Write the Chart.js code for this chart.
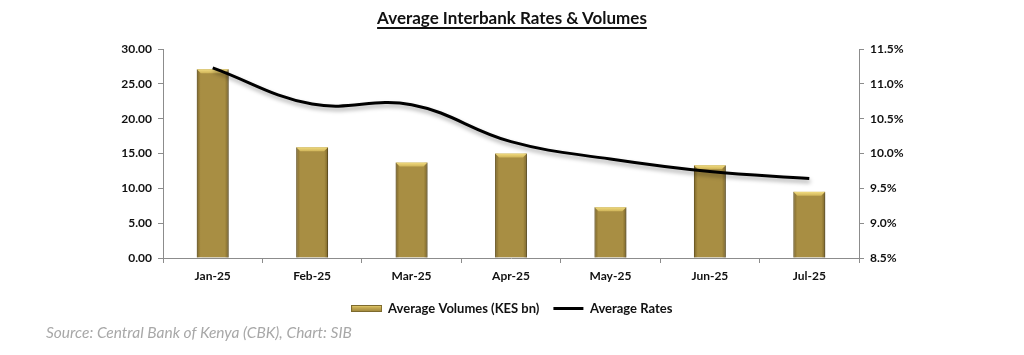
<!DOCTYPE html>
<html><head><meta charset="utf-8">
<script src="https://cdn.jsdelivr.net/npm/chart.js@4/dist/chart.umd.min.js"></script>
<style>
html,body{margin:0;padding:0;background:#fff;}
#wrap{position:relative;width:1024px;height:355px;overflow:hidden;background:#fff;}
#title{position:absolute;left:0;top:7px;width:1024px;text-align:center;font:bold 17px Lato, sans-serif;color:#111;z-index:2;}
#title span{text-decoration:underline;text-underline-offset:3px;text-decoration-thickness:1.5px;}
#src{position:absolute;left:46px;top:323px;font:italic 15.5px Lato, sans-serif;color:#a8a8a8;z-index:2;}
canvas{position:absolute;left:0;top:0;}
</style></head>
<body>
<div id="wrap">
  <div id="title"><span>Average Interbank Rates &amp; Volumes</span></div>
  <canvas id="c" width="1024" height="355"></canvas>
  <div id="src">Source: Central Bank of Kenya (CBK), Chart: SIB</div>
</div>
<script>
const categories = ['Jan-25','Feb-25','Mar-25','Apr-25','May-25','Jun-25','Jul-25'];
const volumes = [27.1, 15.9, 13.7, 15.0, 7.3, 13.3, 9.5];
const rates = [11.23, 10.71, 10.70, 10.17, 9.92, 9.74, 9.64];
const volumeAxis = [0, 30, 5];     // min, max, step
const rateAxis = [8.5, 11.5, 0.5]; // min, max, step
const seriesNames = ['Average Volumes (KES bn)', 'Average Rates'];

// legend swatch for the bar series (wide bevelled gold bar)
const swatch = document.createElement('canvas');
swatch.width = 31; swatch.height = 7;
(function(){
  const c = swatch.getContext('2d');
  const g = c.createLinearGradient(0, 0, 0, 7);
  g.addColorStop(0, '#f0da7c');
  g.addColorStop(0.35, '#c9ae55');
  g.addColorStop(1, '#9a8138');
  c.fillStyle = g; c.fillRect(0, 0, 31, 7);
  c.strokeStyle = '#7d6a2e'; c.lineWidth = 1; c.strokeRect(0.5, 0.5, 30, 6);
})();

const bevelPlugin = {
  id: 'bevel',
  beforeDatasetDraw(chart, args) {
    const ctx = chart.ctx;
    ctx.save();
    if (args.index === 1) {
      ctx.shadowColor = 'rgba(0,0,0,0.35)';
      ctx.shadowBlur = 4;
      ctx.shadowOffsetX = 1;
      ctx.shadowOffsetY = 3;
    } else {
      ctx.shadowColor = 'rgba(0,0,0,0.25)';
      ctx.shadowBlur = 3;
      ctx.shadowOffsetX = 2;
      ctx.shadowOffsetY = 1;
    }
  },
  afterDatasetDraw(chart, args) {
    const ctx = chart.ctx;
    ctx.restore();
    if (args.index !== 0) return;
    args.meta.data.forEach(bar => {
      const p = bar.getProps(['x','y','base','width'], true);
      const l = p.x - p.width/2, r = p.x + p.width/2, t = p.y, b = p.base;
      const bev = 4;
      ctx.save();
      const g = ctx.createLinearGradient(l, 0, r, 0);
      g.addColorStop(0, 'rgba(70,52,10,0.45)');
      g.addColorStop(0.12, 'rgba(70,52,10,0)');
      g.addColorStop(0.88, 'rgba(70,52,10,0)');
      g.addColorStop(1, 'rgba(70,52,10,0.45)');
      ctx.fillStyle = g;
      ctx.fillRect(l, t, p.width, b - t);
      const g2 = ctx.createLinearGradient(0, t, 0, t + bev);
      g2.addColorStop(0, '#f2dc80');
      g2.addColorStop(1, '#cfb459');
      ctx.fillStyle = g2;
      ctx.beginPath();
      ctx.moveTo(l, t); ctx.lineTo(r, t); ctx.lineTo(r - bev, t + bev); ctx.lineTo(l + bev, t + bev);
      ctx.closePath(); ctx.fill();
      ctx.restore();
    });
  }
};

const tickFont = {family: 'Lato', size: 12, weight: 'bold'};
const axisColor = '#8c8c8c';

new Chart(document.getElementById('c'), {
  type: 'bar',
  data: {
    labels: categories,
    datasets: [
      {
        type: 'bar',
        label: seriesNames[0],
        data: volumes,
        yAxisID: 'y',
        backgroundColor: '#a88e43',
        borderColor: '#7d6a2e',
        borderWidth: 1,
        barPercentage: 0.32,
        categoryPercentage: 1,
        pointStyle: swatch,
        order: 1
      },
      {
        type: 'line',
        label: seriesNames[1],
        data: rates,
        yAxisID: 'y1',
        borderColor: '#000',
        backgroundColor: '#000',
        borderWidth: 3,
        tension: 0.4,
        pointRadius: 0,
        pointStyle: 'line',
        fill: false,
        order: 0
      }
    ]
  },
  options: {
    responsive: false,
    animation: false,
    layout: {padding: {top: 49, left: 0, right: 0, bottom: 30}},
    plugins: {
      title: {display: false},
      tooltip: {enabled: false},
      legend: {
        position: 'bottom',
        labels: {
          usePointStyle: true,
          pointStyleWidth: 30,
          boxHeight: 8,
          padding: 14,
          color: '#111',
          font: {family: 'Lato', size: 13, weight: 'bold'},
          sort: (a, b) => a.datasetIndex - b.datasetIndex
        }
      }
    },
    scales: {
      x: {
        offset: true,
        grid: {display: true, drawOnChartArea: false, drawTicks: true, tickLength: 5, color: axisColor, offset: true},
        border: {color: axisColor},
        ticks: {color: '#111', font: tickFont, padding: 6, maxRotation: 0},
        afterFit: s => { s.height = 30; }
      },
      y: {
        position: 'left',
        min: volumeAxis[0], max: volumeAxis[1],
        ticks: {stepSize: volumeAxis[2], color: '#111', font: tickFont, padding: 6, callback: v => Number(v).toFixed(2)},
        grid: {drawOnChartArea: false, tickLength: 5, color: axisColor},
        border: {color: axisColor},
        afterFit: s => { s.width = 163; }
      },
      y1: {
        position: 'right',
        min: rateAxis[0], max: rateAxis[1],
        ticks: {stepSize: rateAxis[2], color: '#111', font: tickFont, padding: 6, callback: v => Number(v).toFixed(1) + '%'},
        grid: {drawOnChartArea: false, tickLength: 5, color: axisColor},
        border: {color: axisColor},
        afterFit: s => { s.width = 165; }
      }
    }
  },
  plugins: [bevelPlugin]
});
</script>
</body></html>
